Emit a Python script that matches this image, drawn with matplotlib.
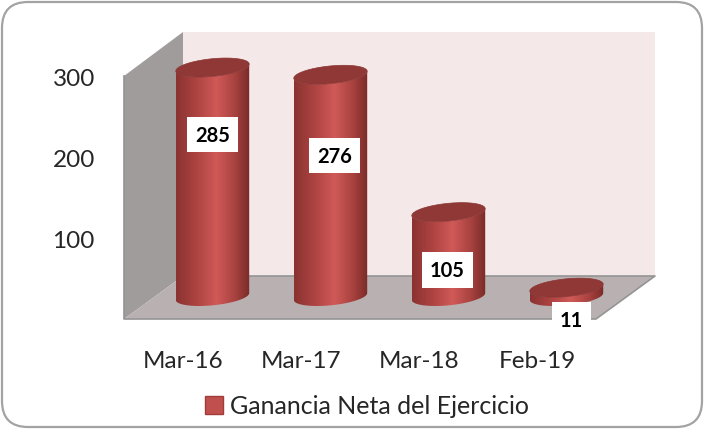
import numpy as np
from matplotlib import pyplot as plt
from matplotlib.colors import LinearSegmentedColormap
from matplotlib.patches import FancyBboxPatch, Patch, PathPatch, Polygon, Rectangle
from matplotlib.path import Path

categories = ['Mar-16', 'Mar-17', 'Mar-18', 'Feb-19']
ganancia = [285, 276, 105, 11]
y_ticks = [100, 200, 300]
series_name = 'Ganancia Neta del Ejercicio'

# Offset of each value label from the top centre of its bar, in pixels
label_dx = [0, 4, -1, 5]
label_dy = [-67, -81, -58, -32]

W, H = 704, 431
plt.rcParams['font.family'] = ['Lato', 'DejaVu Sans']
fig = plt.figure(dpi=100, figsize=(W / 100, H / 100))


def px_axes(left, right, top, bottom):
    return fig.add_axes([left / W, 1 - bottom / H, (right - left) / W, (bottom - top) / H])


# Frame and 3D walls, in pixel coordinates
chrome = fig.add_axes([0, 0, 1, 1], zorder=0)
chrome.set_xlim(0, W)
chrome.set_ylim(H, 0)
chrome.axis('off')
chrome.add_patch(FancyBboxPatch((2, 3), 700, 425, boxstyle='round,pad=0,rounding_size=26',
                                fc='white', ec='#a3a3a3', lw=1.6))
chrome.add_patch(Rectangle((183, 33), 472, 244, fc='#f4e8e8', ec='none'))
chrome.add_patch(Polygon([(124, 77), (183, 33), (183, 277), (124, 320)], fc='#a09c9c', ec='none'))
chrome.add_patch(Polygon([(124, 320), (183, 277), (655, 277), (596, 320)], fc='#b9b1b1', ec='none'))
chrome.plot([183, 655, 596, 124, 124], [277, 277, 320, 320, 77], c='#949494', lw=1.2)

# Front plane carries the tick labels
front = px_axes(124, 596, 78, 320)
front.set_zorder(1)
front.patch.set_visible(False)
front.set_xlim(-0.5, 3.5)
front.set_ylim(0, 300)
front.set_xticks(range(len(categories)), categories)
front.set_yticks(y_ticks)
front.tick_params(axis='both', length=0, labelsize=17.5, labelcolor='#262626')
front.tick_params(axis='x', pad=22)
front.tick_params(axis='y', pad=21)
for s in front.spines.values():
    s.set_visible(False)

# Bars sit half way into the depth of the floor
ax = px_axes(153.5, 625.5, 56.5, 297.5)
ax.set_zorder(2)
ax.patch.set_visible(False)
ax.axis('off')

body_cmap = LinearSegmentedColormap.from_list(
    'cyl', [(0, '#8a3331'), (0.3, '#b04543'), (0.55, '#d05a58'), (0.8, '#a8423f'), (1, '#7a2b29')])

half_w = 0.311
b, k = 11.0, 4.3  # ellipse half height and tilt, in value units
t = np.linspace(0, 2 * np.pi, 121)
lower = np.linspace(np.pi, 2 * np.pi, 61)
for i, v in enumerate(ganancia):
    # silhouette: lower arc of the base, then back along the lower arc of the top
    low_x = i + half_w * np.cos(lower)
    low_y = b * np.sin(lower) + k * np.cos(lower)
    verts = np.column_stack([np.r_[low_x, low_x[::-1]], np.r_[low_y, v + low_y[::-1]]])
    clip = PathPatch(Path(np.vstack([verts, verts[0]])), fc='none', ec='none', transform=ax.transData)
    im = ax.imshow(np.linspace(0, 1, 128)[None, :], cmap=body_cmap, aspect='auto', zorder=2,
                   extent=(i - half_w, i + half_w, -20, v + 20))
    im.set_clip_path(clip)
    im.set_clip_box(fig.bbox)
    ax.fill(i + half_w * np.cos(t), v + b * np.sin(t) + k * np.cos(t), fc='#8f3836', ec='#8a3533',
            lw=0.5, zorder=3, clip_on=False)
    ax.annotate(str(v), xy=(i, v), xytext=(label_dx[i] * 0.72, label_dy[i] * 0.72),
                textcoords='offset points', ha='center', va='center', fontsize=14.5,
                fontweight='bold', color='black', zorder=4, annotation_clip=False,
                bbox=dict(boxstyle='square,pad=0.38', fc='white', ec='none'))
ax.set_xlim(-0.5, 3.5)
ax.set_ylim(0, 300)

fig.legend(handles=[Patch(fc='#c0504d', ec='#a03c39', label=series_name)], loc='center',
           bbox_to_anchor=(367 / W, 1 - 407 / H), frameon=False, fontsize=18, labelcolor='#262626',
           handlelength=0.7, handleheight=0.7, handletextpad=0.3)

plt.savefig('out.png', dpi=100)
